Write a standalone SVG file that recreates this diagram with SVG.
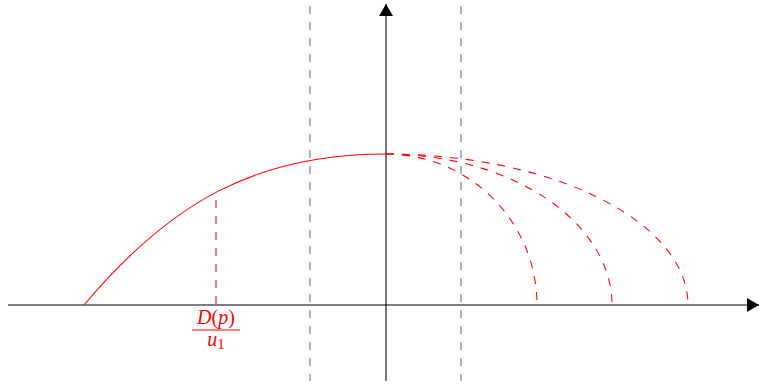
<svg xmlns="http://www.w3.org/2000/svg" width="759" height="386" viewBox="0 0 759 386">
<style>
.axis{stroke:#000;stroke-width:1.07;fill:none}
.guide{stroke:#707070;stroke-width:1.07;stroke-dasharray:8 8;fill:none}
.red{stroke:#ff0000;stroke-width:1.07;fill:none}
.reddash{stroke:#ff0000;stroke-width:1.07;stroke-dasharray:8 8;fill:none}
.lbl{font-family:"Liberation Serif","DejaVu Serif",serif;font-size:20px;fill:#ff0000}
</style>
<defs>
<marker id="arr" viewBox="0 0 12 14" refX="12" refY="7" markerWidth="12" markerHeight="14" markerUnits="userSpaceOnUse" orient="auto">
<path d="M0,0 L12,7 L0,14 Z" fill="#000"/>
</marker>
</defs>
<g id="guides">
<line class="guide" x1="310" y1="6" x2="310" y2="381"/>
<line class="guide" x1="461" y1="6" x2="461" y2="381"/>
</g>
<g id="axes">
<line class="axis" x1="8" y1="305" x2="759" y2="305" marker-end="url(#arr)"/>
<line class="axis" x1="386" y1="381" x2="386" y2="4" marker-end="url(#arr)"/>
</g>
<g id="curves">
<path class="red" d="M84,305 C169,204 254,154 386,154"/>
<path class="reddash" d="M386,154 A151,151 0 0 1 537,305"/>
<path class="reddash" d="M386,154 A226,151 0 0 1 612,305"/>
<path class="reddash" d="M386,154 A302,151 0 0 1 688,305"/>
<line class="reddash" x1="216" y1="200" x2="216" y2="305"/>
</g>
<g id="label">
<text class="lbl" x="216" y="324" text-anchor="middle"><tspan font-style="italic">D</tspan>(<tspan font-style="italic">p</tspan>)</text>
<line x1="192" y1="330" x2="240" y2="330" stroke="#ff0000" stroke-width="1"/>
<text class="lbl" x="216" y="346" text-anchor="middle"><tspan font-style="italic">u</tspan><tspan font-size="15px" dy="3">1</tspan></text>
</g>
</svg>
